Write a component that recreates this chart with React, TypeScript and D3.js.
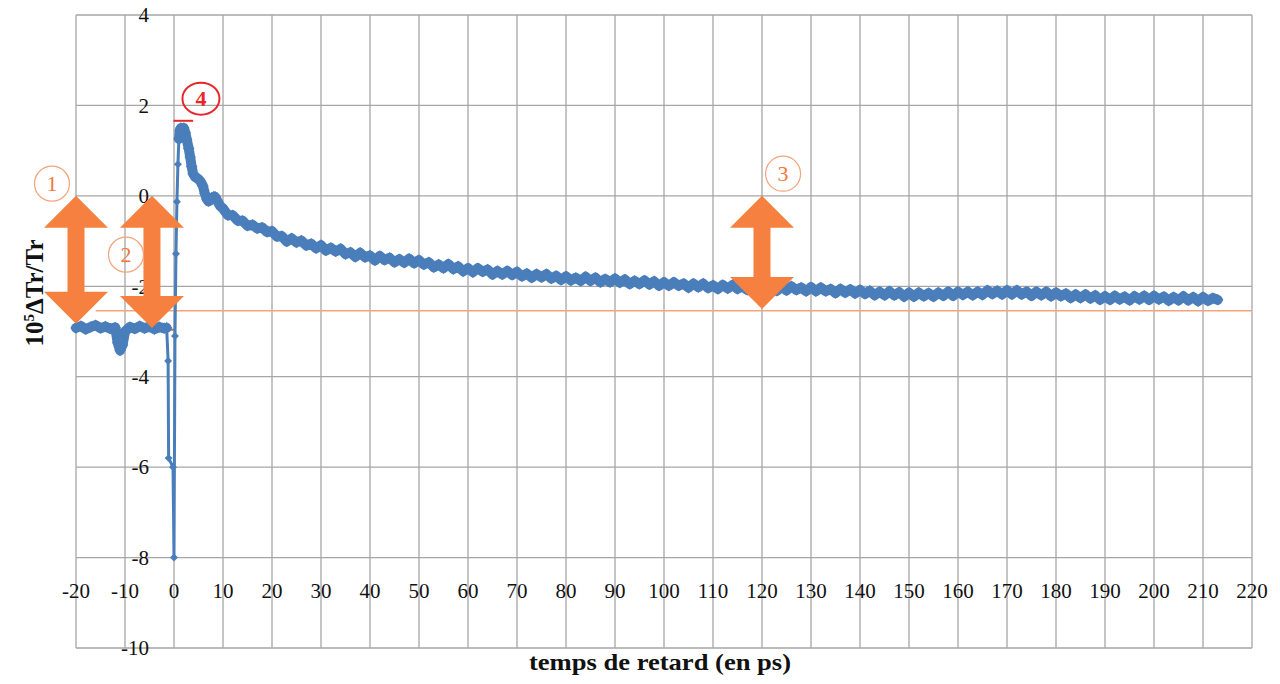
import React from "react";
import * as d3 from "d3";

// ---- data ----
const xTicks = [-20, -10, 0, 10, 20, 30, 40, 50, 60, 70, 80, 90, 100, 110, 120, 130, 140, 150, 160, 170, 180, 190, 200, 210, 220];
const yTicks = [-10, -8, -6, -4, -2, 0, 2, 4];

// early part (pre-zero, spike and peak)
const earlyDelays = [
  -20, -19, -18, -17, -16, -15, -14, -13, -12, -11.5, -11, -10.5, -10,
  -9, -8, -7, -6, -5, -4, -3, -2, -1.5, -1.2, -1.1, -0.2, 0, 0.2, 0.4, 0.6, 0.8,
  1.0, 1.2, 1.4, 1.7, 2.0, 2.3, 2.6, 3.0, 3.3, 3.6, 3.9, 4.3, 4.9, 5.4, 5.9,
  6.3, 6.7, 7.0, 7.3, 7.7, 8.1, 8.4, 8.8, 9.4,
];
const earlyValues = [
  -2.92, -2.88, -2.95, -2.9, -2.86, -2.93, -2.89, -2.94, -2.91, -3.25, -3.42, -3.3, -3.0,
  -2.9, -2.94, -2.88, -2.93, -2.89, -2.95, -2.9, -2.93, -2.92, -3.65, -5.8, -6.0, -8.0, -3.1, -1.28, -0.13, 0.7,
  1.26, 1.45, 1.5, 1.45, 1.5, 1.4, 1.25, 1.05, 0.86, 0.65, 0.49, 0.42, 0.38, 0.32, 0.22,
  0.05, -0.07, -0.12, -0.11, -0.06, -0.02, -0.02, -0.1, -0.22,
];

// decay, one point per ps from 10 to 213 ps
const decayDelays = [
  10, 11, 12, 13, 14, 15, 16, 17, 18, 19,
  20, 21, 22, 23, 24, 25, 26, 27, 28, 29,
  30, 31, 32, 33, 34, 35, 36, 37, 38, 39,
  40, 41, 42, 43, 44, 45, 46, 47, 48, 49,
  50, 51, 52, 53, 54, 55, 56, 57, 58, 59,
  60, 61, 62, 63, 64, 65, 66, 67, 68, 69,
  70, 71, 72, 73, 74, 75, 76, 77, 78, 79,
  80, 81, 82, 83, 84, 85, 86, 87, 88, 89,
  90, 91, 92, 93, 94, 95, 96, 97, 98, 99,
  100, 101, 102, 103, 104, 105, 106, 107, 108, 109,
  110, 111, 112, 113, 114, 115, 116, 117, 118, 119,
  120, 121, 122, 123, 124, 125, 126, 127, 128, 129,
  130, 131, 132, 133, 134, 135, 136, 137, 138, 139,
  140, 141, 142, 143, 144, 145, 146, 147, 148, 149,
  150, 151, 152, 153, 154, 155, 156, 157, 158, 159,
  160, 161, 162, 163, 164, 165, 166, 167, 168, 169,
  170, 171, 172, 173, 174, 175, 176, 177, 178, 179,
  180, 181, 182, 183, 184, 185, 186, 187, 188, 189,
  190, 191, 192, 193, 194, 195, 196, 197, 198, 199,
  200, 201, 202, 203, 204, 205, 206, 207, 208, 209,
  210, 211, 212, 213,
];
const decayValues = [
  -0.28, -0.43, -0.43, -0.55, -0.55, -0.66, -0.64, -0.72, -0.7, -0.8,
  -0.78, -0.9, -0.89, -1.01, -0.94, -1.03, -0.99, -1.1, -1.06, -1.16,
  -1.09, -1.21, -1.15, -1.23, -1.17, -1.29, -1.25, -1.35, -1.26, -1.36,
  -1.32, -1.43, -1.33, -1.42, -1.37, -1.47, -1.4, -1.48, -1.39, -1.49,
  -1.42, -1.52, -1.47, -1.58, -1.52, -1.6, -1.51, -1.62, -1.56, -1.67,
  -1.6, -1.69, -1.6, -1.68, -1.63, -1.74, -1.66, -1.74, -1.66, -1.75,
  -1.68, -1.78, -1.72, -1.81, -1.73, -1.8, -1.73, -1.83, -1.77, -1.86,
  -1.78, -1.87, -1.81, -1.88, -1.79, -1.88, -1.81, -1.91, -1.84, -1.91,
  -1.83, -1.92, -1.85, -1.95, -1.88, -1.95, -1.87, -1.96, -1.89, -1.99,
  -1.91, -1.99, -1.91, -1.99, -1.94, -2.03, -1.94, -2.02, -1.94, -2.04,
  -1.98, -2.06, -1.97, -2.05, -1.97, -2.06, -2.0, -2.08, -1.99, -2.07,
  -1.99, -2.07, -2.01, -2.1, -2.01, -2.09, -2.0, -2.08, -2.03, -2.11,
  -2.02, -2.11, -2.03, -2.11, -2.06, -2.15, -2.06, -2.14, -2.07, -2.16,
  -2.08, -2.17, -2.1, -2.2, -2.12, -2.2, -2.11, -2.2, -2.13, -2.23,
  -2.14, -2.23, -2.14, -2.22, -2.15, -2.23, -2.14, -2.21, -2.12, -2.21,
  -2.12, -2.19, -2.12, -2.2, -2.12, -2.19, -2.09, -2.17, -2.1, -2.18,
  -2.09, -2.18, -2.09, -2.18, -2.12, -2.21, -2.12, -2.2, -2.12, -2.22,
  -2.14, -2.22, -2.16, -2.26, -2.18, -2.26, -2.18, -2.27, -2.2, -2.3,
  -2.22, -2.3, -2.21, -2.29, -2.23, -2.31, -2.22, -2.29, -2.21, -2.3,
  -2.21, -2.29, -2.23, -2.32, -2.24, -2.31, -2.22, -2.31, -2.24, -2.33,
  -2.24, -2.32, -2.26, -2.3,
];

// annotations
const arrowX = [-20, -4.5, 120];
const arrowTop = [0, 0, 0];
const arrowBottom = [-2.83, -2.92, -2.5];
const circleLabels = ["1", "2", "3"];
const circleX = [-24.9, -9.8, 124.3];
const circleY = [0.27, -1.3, 0.49];
const peakLabel = "4";
const peakLabelX = 5.5;
const peakLabelY = 2.15;
const peakLevel = 1.66;
const peakStart = -0.1;
const peakEnd = 3.9;
const baselineLevel = -2.96;
const baselineStart = -20;
const baselineEnd = 0;
const finalLevel = -2.54;
const finalStart = -16;
const finalEnd = 220;

export default function App() {
  const W = 1280;
  const H = 684;
  const left = 76, right = 1252, top = 15, bottom = 648;
  const x = d3.scaleLinear().domain([-20, 220]).range([left, right]);
  const y = d3.scaleLinear().domain([-10, 4]).range([bottom, top]);

  const pts: [number, number][] = [];
  earlyDelays.forEach((t, i) => pts.push([t, earlyValues[i]]));
  decayDelays.forEach((t, i) => pts.push([t, decayValues[i]]));

  const line = d3.line<[number, number]>().x((d) => x(d[0])).y((d) => y(d[1]));
  const diamond = d3.symbol().type(d3.symbolDiamond2).size(85)();
  const spikeDiamond = d3.symbol().type(d3.symbolDiamond2).size(40)();

  const blue = "#4a7ebb";
  const orange = "#f6803f";
  const serif = "'Liberation Serif', 'Times New Roman', serif";

  const arrowPath = (cx: number, yt: number, yb: number) => {
    const hw = 32, hh = 32, sw = 8.5;
    return `M${cx},${yt} L${cx + hw},${yt + hh} L${cx + sw},${yt + hh} L${cx + sw},${yb - hh} L${cx + hw},${yb - hh} L${cx},${yb} L${cx - hw},${yb - hh} L${cx - sw},${yb - hh} L${cx - sw},${yt + hh} L${cx - hw},${yt + hh} Z`;
  };

  const isSpike = (d: [number, number]) => d[0] >= -1.3 && d[0] <= 0.9;
  const thin = pts.filter(isSpike);
  const thick = pts.filter((d) => !isSpike(d));

  return (
    <svg width={W} height={H} style={{ position: "absolute", left: 0, top: 0, background: "#fff" }}>
      <rect x={0} y={0} width={W} height={H} fill="#fff" />
      {/* grid */}
      <g stroke="#a6a6a6" strokeWidth={1.3}>
        {xTicks.map((t) => (
          <line key={"vx" + t} x1={x(t)} x2={x(t)} y1={y(4)} y2={y(-10)} />
        ))}
        {yTicks.map((t) => (
          <line key={"hy" + t} x1={x(-20)} x2={x(220)} y1={y(t)} y2={y(t)} />
        ))}
      </g>
      {/* reference lines */}
      <line x1={x(finalStart)} x2={x(finalEnd)} y1={y(finalLevel)} y2={y(finalLevel)} stroke="#f4a37a" strokeWidth={1.5} />
      <line x1={x(baselineStart)} x2={x(baselineEnd)} y1={y(baselineLevel)} y2={y(baselineLevel)} stroke="#c0714c" strokeWidth={2} />
      {/* data */}
      <path d={line(pts) || ""} fill="none" stroke={blue} strokeWidth={3} strokeLinejoin="round" />
      <path d={line(thick.slice(0, 22)) || ""} fill="none" stroke={blue} strokeWidth={10} strokeLinejoin="round" strokeLinecap="round" />
      <path d={line(thick.slice(22)) || ""} fill="none" stroke={blue} strokeWidth={10} strokeLinejoin="round" strokeLinecap="round" />
      {thick.map((d, i) => (
        <path key={i} d={diamond || ""} transform={`translate(${x(d[0])},${y(d[1])})`} fill={blue} />
      ))}
      {thin.map((d, i) => (
        <path key={"s" + i} d={spikeDiamond || ""} transform={`translate(${x(d[0])},${y(d[1])})`} fill={blue} />
      ))}
      {/* y tick labels */}
      {yTicks.map((t) => (
        <text key={"yl" + t} x={x(0) - 25} y={y(t)} dy="0.35em" textAnchor="end" fontFamily={serif} fontSize={21} fill="#111">
          {t}
        </text>
      ))}
      {/* x tick labels */}
      {xTicks.map((t) => (
        <text key={"xl" + t} x={x(t)} y={y(-8) + 33} dy="0.35em" textAnchor="middle" fontFamily={serif} fontSize={21} fill="#111">
          {t}
        </text>
      ))}
      {/* axis titles */}
      <text x={660} y={670} textAnchor="middle" fontFamily={serif} fontSize={24} fontWeight="bold" fill="#111" textLength={262} lengthAdjust="spacingAndGlyphs">
        temps de retard (en ps)
      </text>
      <text transform={`translate(43,293) rotate(-90)`} textAnchor="middle" fontFamily={serif} fontSize={25} fontWeight="bold" fill="#111">
        10<tspan dy={-9} fontSize={15}>5</tspan><tspan dy={9}>ΔTr/Tr</tspan>
      </text>
      {/* arrows */}
      {arrowX.map((ax, i) => (
        <path key={"ar" + i} d={arrowPath(x(ax), y(arrowTop[i]), y(arrowBottom[i]))} fill={orange} />
      ))}
      {/* peak marker */}
      <line x1={x(peakStart)} x2={x(peakEnd)} y1={y(peakLevel)} y2={y(peakLevel)} stroke="#e8262a" strokeWidth={2} />
      <ellipse cx={x(peakLabelX)} cy={y(peakLabelY)} rx={18.5} ry={16} fill="none" stroke="#e8262a" strokeWidth={2} />
      <text x={x(peakLabelX)} y={y(peakLabelY)} dy="0.35em" textAnchor="middle" fontFamily={serif} fontSize={22} fontWeight="bold" fill="#e8262a">
        {peakLabel}
      </text>
      {/* numbered circles */}
      {circleLabels.map((c, i) => (
        <g key={"c" + c}>
          <circle cx={x(circleX[i])} cy={y(circleY[i])} r={17.5} fill="none" stroke="#f4a37a" strokeWidth={1.2} />
          <text x={x(circleX[i])} y={y(circleY[i])} dy="0.35em" textAnchor="middle" fontFamily={serif} fontSize={22} fill="#f0783a">
            {c}
          </text>
        </g>
      ))}
    </svg>
  );
}
